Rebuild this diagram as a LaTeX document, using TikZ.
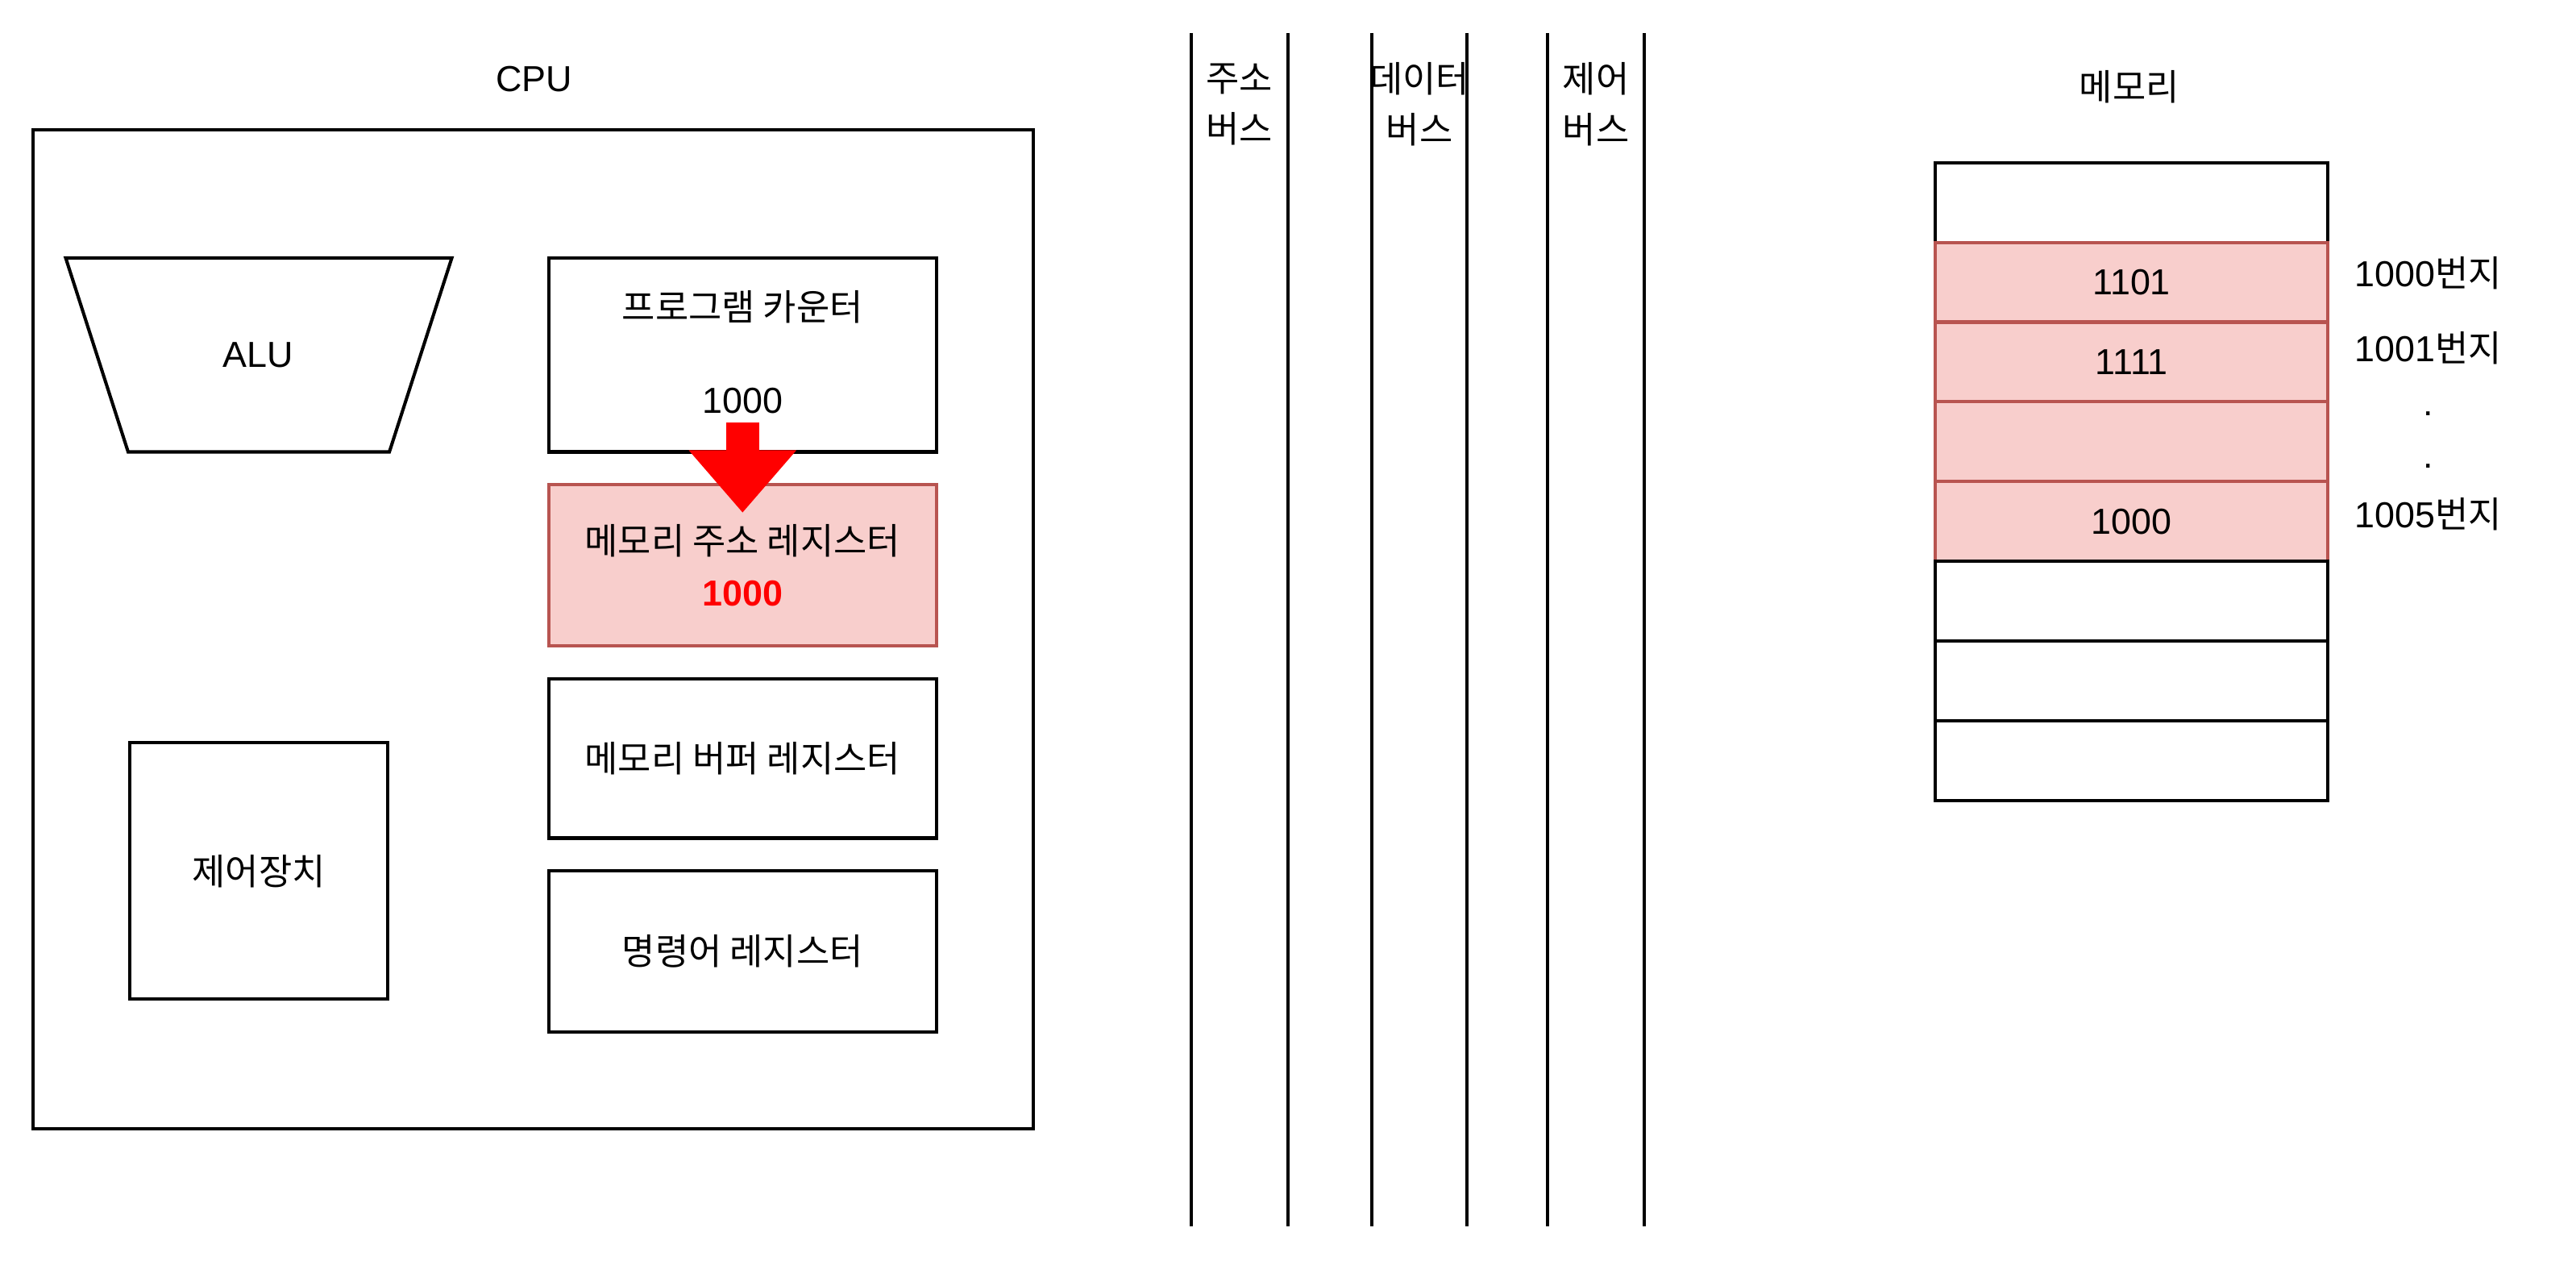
\documentclass[tikz,border=0pt]{standalone}
\usepackage{fontspec}
\setmainfont{Liberation Sans}
\newfontfamily\kr[Scale=1.0]{Noto Sans CJK KR}
\usetikzlibrary{arrows.meta}

\definecolor{cellpink}{HTML}{F8CECC}
\definecolor{celledge}{HTML}{B85450}

\tikzset{
	wire/.style={line width=2pt, black},
	kor/.style={font=\fontsize{22}{31}\selectfont\kr},
	unit/.style={draw, line width=2pt, minimum width=236pt, minimum height=98pt,
		inner sep=0pt, align=center},
	hotunit/.style={unit, fill=cellpink, draw=celledge},
	cell/.style={draw, line width=2pt, minimum width=239pt, minimum height=48.5pt, inner sep=0pt},
	hotcell/.style={cell, fill=cellpink, draw=celledge},
	bigarrow/.style={draw=red, line width=20pt, -{Triangle[width=63pt,length=38pt,fill=red]}},
}

\begin{document}
\begin{tikzpicture}[x=1pt, y=-1pt, font=\fontsize{22}{31}\selectfont]
	\useasboundingbox (0,0) rectangle (1568,767);
	
	% CPU
	\node (cpulbl) at (325,48) {CPU};
	\node[draw, line width=2pt, minimum width=609pt, minimum height=608pt] (cpu) at (324.5,383) {};
	
	\draw[wire] (40,157) -- (275,157) -- (237,275) -- (78,275) -- cycle;
	\node (alu) at (157,216) {ALU};
	
	\node[unit, minimum height=118pt] (pc) at (452,216) {};
	\node[kor] (pcname) at (452,187) {프로그램 카운터};
	\node (pcval) at (452,244) {1000};
	
	\node[hotunit] (mar) at (452,344) {{\kr 메모리 주소 레지스터}\\{\color{red}\bfseries 1000}};
	\node[unit, kor, minimum height=97pt] (mbr) at (452,461.5) {메모리 버퍼 레지스터};
	\node[unit, kor] (ir) at (452,579) {명령어 레지스터};
	\node[unit, kor, minimum width=157pt, minimum height=156pt] (cu) at (157.5,530) {제어장치};
	
	\draw[bigarrow] ([yshift=19pt]pc.south) -- ([yshift=-18pt]mar.north);
	
	% buses
	\foreach \x in {725,784,835,893,942,1001}
		\draw[wire] (\x,20) -- (\x,746);
	\node[kor, align=center] (abus) at (754.5,63.5) {주소\\버스};
	\node[kor, align=center] (dbus) at (864,63.5) {데이터\\버스};
	\node[kor, align=center] (cbus) at (971.5,63.5) {제어\\버스};
	
	% memory
	\node[kor] (memlbl) at (1296,53) {메모리};
	\foreach \i/\v/\s in {0//cell,1/1101/hotcell,2/1111/hotcell,3//hotcell,
		4/1000/hotcell,5//cell,6//cell,7//cell}
		\node[\s] (m\i) at (1297.5,{123.25+48.5*\i}) {\v};
	
	\node (adr1) at (1478,166) {1000{\kr 번지}};
	\node (adr2) at (1478,212) {1001{\kr 번지}};
	\node[anchor=base] (dot1) at (1478,253) {.};
	\node[anchor=base] (dot2) at (1478,285) {.};
	\node (adr5) at (1478,313) {1005{\kr 번지}};
\end{tikzpicture}
\end{document}
